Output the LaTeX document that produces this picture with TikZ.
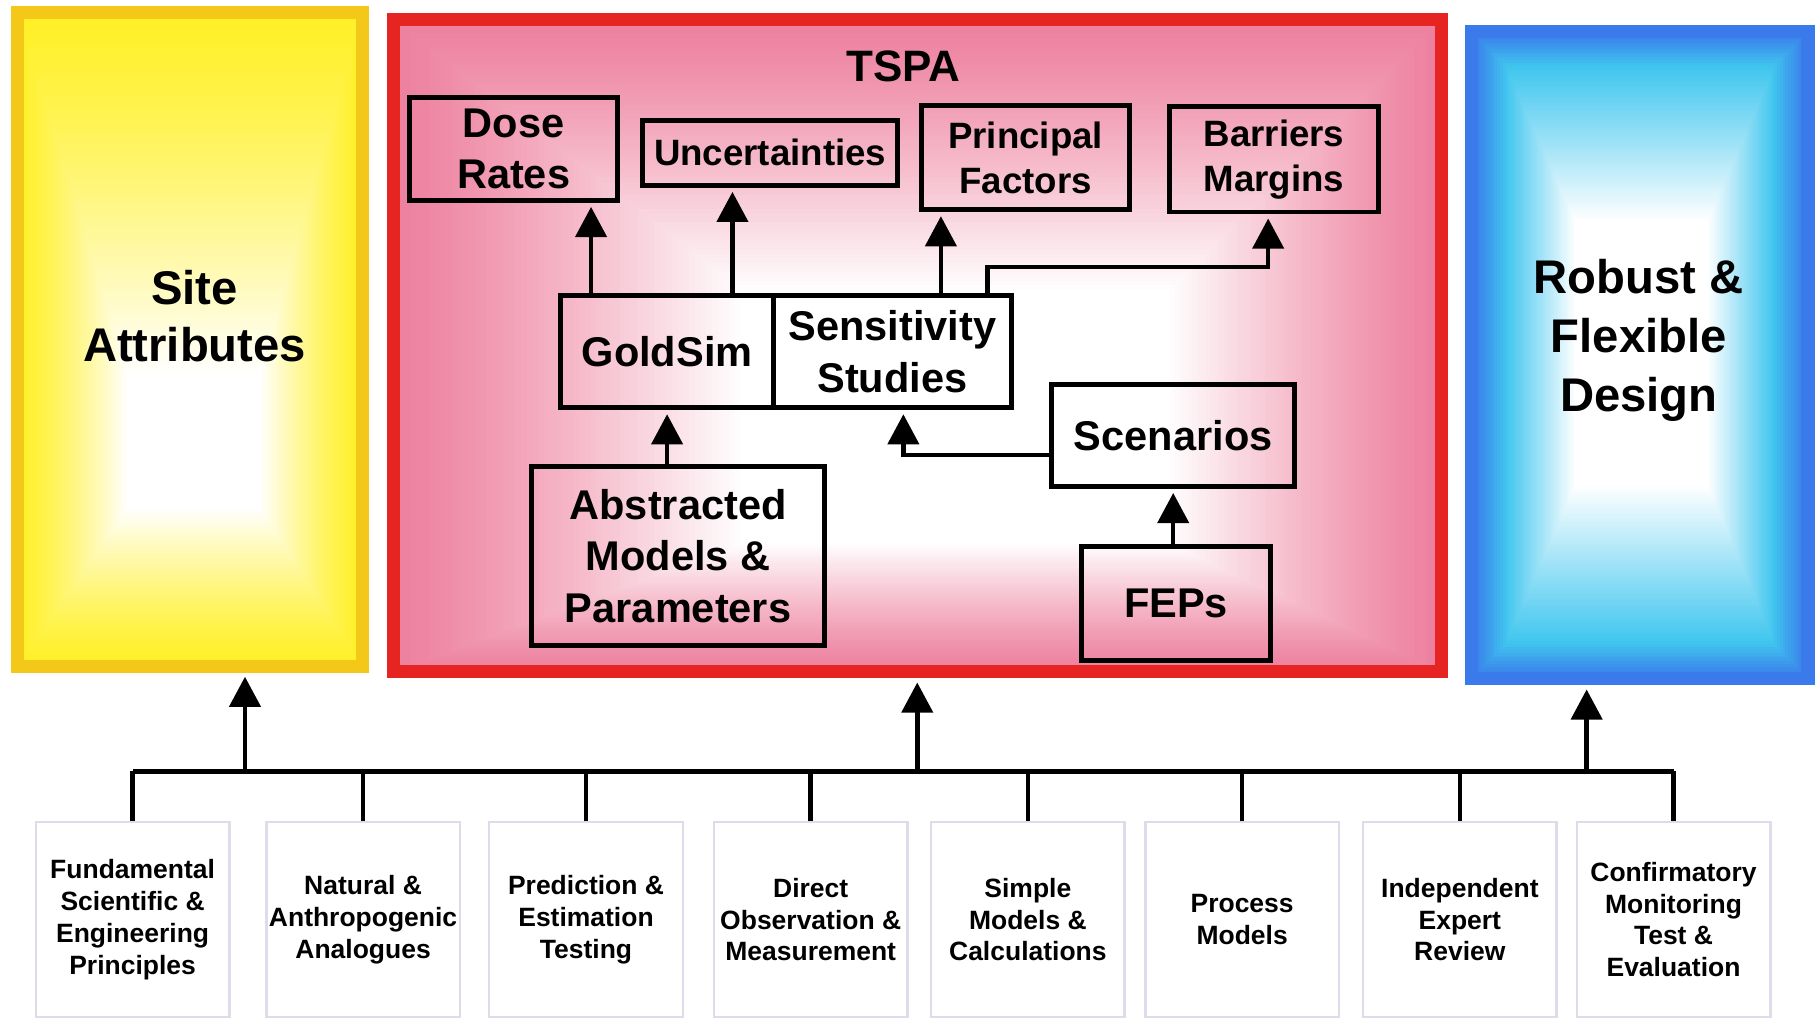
\documentclass[tikz,border=0pt]{standalone}
\usepackage{fontspec}
\setmainfont{Liberation Sans}
\usetikzlibrary{arrows.meta}

\definecolor{siteyellow}{RGB}{255,240,40}
\definecolor{siteedge}{RGB}{244,200,24}
\definecolor{tspapink}{RGB}{237,128,158}
\definecolor{tspared}{RGB}{230,36,34}
\definecolor{designblue}{RGB}{58,122,234}
\definecolor{designcyan}{RGB}{64,198,238}
\definecolor{baseedge}{RGB}{222,220,234}

\tikzset{
  panel/.style={draw, line width=3.2pt, inner sep=0pt},
  bigtext/.style={font=\fontsize{11.6}{13.8}\selectfont\bfseries, align=center},
  tspabox/.style={draw, line width=1.2pt, inner sep=0pt, align=center,
    font=\fontsize{10.2}{12.6}\selectfont\bfseries},
  smallbox/.style={tspabox, font=\fontsize{9}{11}\selectfont\bfseries},
  basebox/.style={draw=baseedge, line width=0.6pt, fill=white, inner sep=0pt,
    minimum width=1.67cm, minimum height=1.68cm, align=center,
    font=\fontsize{6.5}{7.8}\selectfont\bfseries},
  arr/.style={line width=1.1pt, shorten >=1pt, -{Triangle[length=7.4pt,width=7.6pt]}},
  bus/.style={line width=1.3pt},
  drop/.style={line width=1.1pt}
}

\begin{document}
\begin{tikzpicture}[x=0.01cm, y=-0.01cm]
  \useasboundingbox (0,0) rectangle (1568,884);

  % shading of the three panels
  \foreach \i [evaluate=\i as \c using {100-100*(\i/60)^1.3}] in {0,...,60}
    \fill[siteyellow!\c!white] ({15+1.583*\i},{11+5.15*\i}) rectangle ({313-1.467*\i},{575-2.25*\i});
  \foreach \i [evaluate=\i as \c using {100-100*(\i/60)^1.2}] in {0,...,60}
    \fill[tspapink!\c!white] ({340+5*\i},{17+3.883*\i}) rectangle ({1244-3.9*\i},{580-1.833*\i});
  \foreach \i [evaluate=\i as \c using {100-8.33*\i}] in {0,...,12}
    \fill[designblue!\c!designcyan] ({1271+2.42*\i},{27+2.5*\i}) rectangle ({1561-2.42*\i},{586-2.5*\i});
  \foreach \i [evaluate=\i as \c using {100-100*\i/60}] in {0,...,60}
    \fill[designcyan!\c!white] ({1300+1*\i},{57+2.217*\i}) rectangle ({1532-0.95*\i},{556-2.267*\i});

  % panels
  \node[panel, draw=siteedge, minimum width=2.98cm, minimum height=5.64cm] (site) at (164,293) {};
  \node[panel, draw=tspared, minimum width=9.04cm, minimum height=5.63cm] (tspa) at (792,298.5) {};
  \node[panel, draw=designblue, minimum width=2.9cm, minimum height=5.59cm] (design) at (1416,306.5) {};
  \node[bigtext] (sitetext) at (168,273) {Site\\Attributes};
  \node[bigtext, font=\fontsize{11.6}{14.4}\selectfont\bfseries] (designtext) at (1415,294) {Robust \&\\Flexible\\Design};
  \node[font=\fontsize{10.8}{13}\selectfont\bfseries] (tspatitle) at (780,57) {TSPA};

  % boxes inside TSPA
  \node[tspabox, minimum width=1.79cm, minimum height=0.89cm] (dose) at (443.5,128.5) {Dose\\Rates};
  \node[smallbox, minimum width=2.2cm, minimum height=0.56cm] (uncert) at (665,132) {Uncertainties};
  \node[smallbox, minimum width=1.79cm, minimum height=0.9cm] (princ) at (885.5,136) {Principal\\Factors};
  \node[smallbox, minimum width=1.8cm, minimum height=0.91cm] (barr) at (1100,137.5) {Barriers\\Margins};
  \node[tspabox, minimum width=1.84cm, minimum height=0.97cm] (gold) at (576,303.5) {GoldSim};
  \node[tspabox, minimum width=2.05cm, minimum height=0.97cm] (sens) at (770.5,303.5) {Sensitivity\\Studies};
  \node[tspabox, minimum width=2.1cm, minimum height=0.88cm] (scen) at (1013,376) {Scenarios};
  \node[tspabox, minimum width=2.53cm, minimum height=1.54cm] (abstr) at (585.5,480) {Abstracted\\Models \&\\Parameters};
  \node[tspabox, minimum width=1.63cm, minimum height=0.98cm] (feps) at (1015.5,521) {FEPs};

  % arrows inside TSPA
  \coordinate (gdose) at ([xshift=0.285cm]gold.north west);
  \coordinate (guncert) at ([xshift=1.505cm]gold.north west);
  \coordinate (sprinc) at ([xshift=1.465cm]sens.north west);
  \coordinate (sbarr) at ([xshift=1.865cm]sens.north west);
  \draw[arr] (gdose) -- (gdose |- dose.south);
  \draw[arr] (guncert) -- (guncert |- uncert.south);
  \draw[arr] (sprinc) -- (sprinc |- princ.south);
  \draw[arr] (sbarr) -- ++(0,-22.5) -| ([xshift=-0.05cm]barr.south);
  \draw[arr] (abstr.north -| gold.south) -- (gold.south);
  \draw[arr] ([yshift=-0.17cm]scen.west) -| ([xshift=0.095cm]sens.south);
  \draw[arr] (scen.south |- feps.north) -- (scen.south);

  % bottom row
  \node[basebox] (b1) at (114.5,794) {Fundamental\\Scientific \&\\Engineering\\Principles};
  \node[basebox] (b2) at (313.5,794) {Natural \&\\Anthropogenic\\Analogues};
  \node[basebox] (b3) at (506,794) {Prediction \&\\Estimation\\Testing};
  \node[basebox] (b4) at (700,794) {Direct\\Observation \&\\Measurement};
  \node[basebox] (b5) at (887.5,794) {Simple\\Models \&\\Calculations};
  \node[basebox] (b6) at (1072.5,794) {Process\\Models};
  \node[basebox] (b7) at (1260.5,794) {Independent\\Expert\\Review};
  \node[basebox] (b8) at (1445,794) {Confirmatory\\Monitoring\\Test \&\\Evaluation};

  % bus line and drops
  \coordinate (bus) at (0,666);
  \draw[bus] (b1.north |- bus) -- (b8.north |- bus);
  \draw[drop] (b1.north) -- (b1.north |- bus);
  \draw[drop] (b2.north) -- (b2.north |- bus);
  \draw[drop] (b3.north) -- (b3.north |- bus);
  \draw[drop] (b4.north) -- (b4.north |- bus);
  \draw[drop] (b5.north) -- (b5.north |- bus);
  \draw[drop] (b6.north) -- (b6.north |- bus);
  \draw[drop] (b7.north) -- (b7.north |- bus);
  \draw[drop] (b8.north) -- (b8.north |- bus);

  % arrows up to the panels
  \draw[arr] ([xshift=0.475cm]site.south |- bus) -- ([xshift=0.475cm]site.south);
  \draw[arr] (tspa.south |- bus) -- (tspa.south);
  \draw[arr] ([xshift=-0.46cm]design.south |- bus) -- ([xshift=-0.46cm]design.south);
\end{tikzpicture}
\end{document}
